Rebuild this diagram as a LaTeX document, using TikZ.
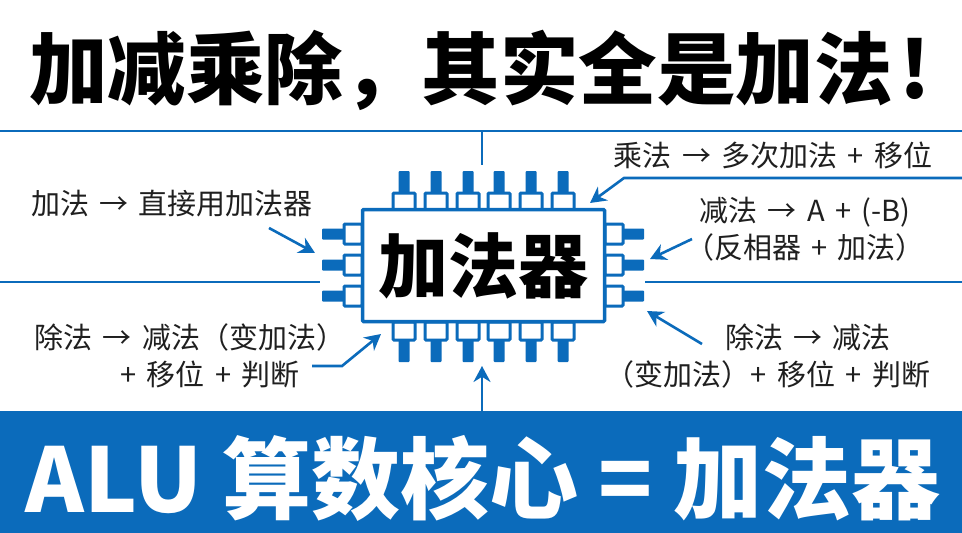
\documentclass[tikz,border=0pt]{standalone}
\usepackage{fontspec}
\usetikzlibrary{arrows.meta}
\setmainfont{Noto Sans CJK SC}
\newfontfamily\labfont[WordSpace=1.6]{Noto Sans CJK SC}
\definecolor{bl}{HTML}{0B6BBB}
\tikzset{
 rule/.style={draw=bl,line width=2.4pt},
 lead/.style={draw=bl,line width=2.6pt,-{Stealth[length=16pt,width=17pt]}},
 lab/.style={font=\labfont\fontsize{29}{37}\selectfont,text=black!88,align=center,inner sep=0pt},
 pinbox/.style={draw=bl,line width=3pt,fill=white,rounded corners=1pt},
 stem/.style={fill=bl,rounded corners=1pt}
}
\begin{document}
\begin{tikzpicture}[x=1pt,y=-1pt]
\useasboundingbox (0,0) rectangle (962,533);
\fill[white] (0,0) rectangle (962,533);
\node[inner sep=0pt,anchor=west,font=\bfseries\fontsize{78.5}{78.5}\selectfont] (title) at (29,70) {加减乘除，其实全是加法\hspace{7pt}!};
\fill[bl] (0,411) rectangle (962,533);
\node[inner sep=0pt,text=white,font=\bfseries\fontsize{89}{89}\selectfont] (band) at (483,478) {ALU 算数核心 = 加法器};
% rules
\coordinate (tl) at (0,131); \coordinate (tr) at (962,131);
\coordinate (ml) at (0,282); \coordinate (mla) at (320,282);
\coordinate (mr) at (962,282); \coordinate (mra) at (645,282);
\draw[rule] (tl) -- (tr);
\draw[rule] (ml) -- (mla);
\draw[rule] (mra) -- (mr);
\coordinate (tm) at (482,131); \coordinate (tb) at (482,165);
\draw[rule] (tm) -- (tb);
% pins
\foreach \x in {404,436,468,499,531,563}{
 \fill[stem] (\x-5.5,171) rectangle (\x+5.5,193);
 \draw[pinbox] (\x-11,193) rectangle (\x+11,210);
 \fill[stem] (\x-5.5,340) rectangle (\x+5.5,362);
 \draw[pinbox] (\x-11,322) rectangle (\x+11,340);
}
\foreach \y in {234,265,296}{
 \fill[stem] (322,\y-5.5) rectangle (344,\y+5.5);
 \draw[pinbox] (344,\y-10) rectangle (362,\y+10);
 \fill[stem] (623,\y-5.5) rectangle (644,\y+5.5);
 \draw[pinbox] (605,\y-10) rectangle (623,\y+10);
}
\node[draw=bl,line width=3.5pt,fill=white,minimum width=242pt,minimum height=112pt,inner sep=0pt,rounded corners=1pt,font=\bfseries\fontsize{70}{70}\selectfont] (chip) at (483.5,265.5) {加法器};
% labels
\node[lab] (add) at (172,204) {加法 → 直接用加法器};
\node[lab] (mul) at (773,155) {乘法 → 多次加法 + 移位};
\node[lab] (sub) at (805,229) {减法 → A + (-B)\\（反相器 + 加法）};
\node[lab] (divl) at (190,356) {除法 → 减法（变加法）\\\hspace*{40pt}+ 移位 + 判断};
\node[lab] (divr) at (768,356) {\hspace*{80pt}除法 → 减法\\（变加法）+ 移位 + 判断};
% leads
\coordinate (a1) at (269,228); \coordinate (a2) at (315,253);
\draw[lead] (a1) -- (a2);
\coordinate (b1) at (962,178); \coordinate (b2) at (624,178); \coordinate (b3) at (590,203);
\draw[lead] (b1) -- (b2) -- (b3);
\coordinate (c1) at (692,239); \coordinate (c2) at (650,259);
\draw[lead] (c1) -- (c2);
\coordinate (d1) at (702,344); \coordinate (d2) at (647,311);
\draw[lead] (d1) -- (d2);
\coordinate (e1) at (312,366); \coordinate (e2) at (342,366); \coordinate (e3) at (381,334);
\draw[lead] (e1) -- (e2) -- (e3);
\coordinate (f1) at (482,411); \coordinate (f2) at (482,366);
\draw[lead] (f1) -- (f2);
\end{tikzpicture}
\end{document}
